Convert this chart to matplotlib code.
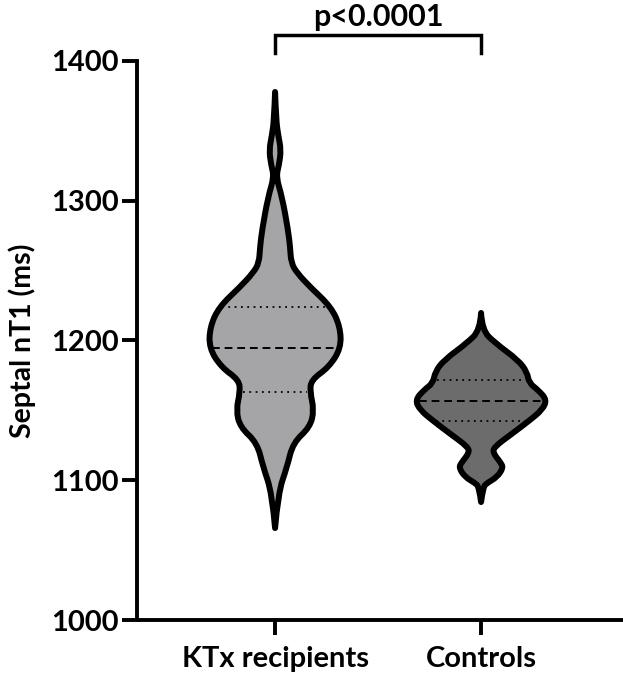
"""Violin plot of septal native T1 in KTx recipients vs controls."""

import matplotlib

matplotlib.use("Agg")
import matplotlib.pyplot as plt
import numpy as np
from matplotlib.patches import PathPatch
from matplotlib.path import Path

groups = ["KTx recipients", "Controls"]
fill_colors = ["#a5a5a7", "#6c6c6c"]

# violin outline: T1 level (ms) and half-width (fraction of group spacing)
ktx_levels = [1377.8, 1357.8, 1347.1, 1336.3, 1325.6, 1317.0, 1302.7, 1279.1, 1266.9,
              1255.5, 1248.3, 1238.3, 1224.0, 1209.7, 1194.6, 1181.0, 1171.7, 1163.1,
              1150.3, 1138.1, 1126.7, 1109.5, 1090.9, 1065.8]
ktx_halfwidth = [0.0, 0.005, 0.015, 0.029, 0.019, 0.005, 0.034, 0.063, 0.073,
                 0.078, 0.107, 0.170, 0.272, 0.316, 0.320, 0.262, 0.175, 0.170,
                 0.189, 0.170, 0.087, 0.058, 0.015, 0.0]

ctrl_levels = [1219.7, 1207.5, 1198.2, 1186.0, 1177.5, 1169.6, 1164.6, 1157.4, 1150.3,
               1143.1, 1133.8, 1123.8, 1119.5, 1112.3, 1108.8, 1102.3, 1098.0, 1095.2,
               1084.4]
ctrl_halfwidth = [0.0, 0.005, 0.068, 0.180, 0.223, 0.233, 0.277, 0.320, 0.296,
                  0.238, 0.155, 0.063, 0.058, 0.097, 0.107, 0.078, 0.029, 0.010,
                  0.0]

medians = [1194.4, 1156.4]
q1 = [1163.1, 1142.5]
q3 = [1224.0, 1172.0]

p_text = "p<0.0001"

plt.rcParams["font.family"] = ["Lato", "DejaVu Sans"]
plt.rcParams["font.weight"] = "bold"


def _smooth_side(xs, ys):
    """Quadratic Bezier through midpoints, keeping both end points."""
    verts = [(xs[0], ys[0])]
    codes = []
    n = len(xs)
    for k in range(1, n - 1):
        mid = ((xs[k] + xs[k + 1]) / 2, (ys[k] + ys[k + 1]) / 2)
        if k == n - 2:
            mid = (xs[-1], ys[-1])
        verts += [(xs[k], ys[k]), mid]
        codes += [Path.CURVE3, Path.CURVE3]
    return verts, codes


def violin_path(center, levels, half):
    lv = np.asarray(levels)
    hw = np.asarray(half)
    left_v, left_c = _smooth_side(center - hw, lv)
    right_v, right_c = _smooth_side((center + hw)[::-1], lv[::-1])
    verts = left_v + right_v[1:] + [left_v[0]]
    codes = [Path.MOVETO] + left_c + right_c + [Path.CLOSEPOLY]
    return Path(verts, codes)


fig = plt.figure(figsize=(6.23, 6.82), dpi=100)
ax = fig.add_axes([0.22, 0.0909, 0.78, 0.8197])

profiles = [(ktx_levels, ktx_halfwidth), (ctrl_levels, ctrl_halfwidth)]
for i, (levels, half) in enumerate(profiles):
    path = violin_path(i, levels, half)
    ax.add_patch(PathPatch(path, facecolor=fill_colors[i], edgecolor="none", zorder=2))
    ax.add_patch(PathPatch(path, facecolor="none", edgecolor="black", lw=4.3,
                           joinstyle="round", capstyle="round", zorder=4))

    lv = np.asarray(levels)
    hw = np.asarray(half)
    order = np.argsort(lv)
    for val, style, lw in [(medians[i], (0, (4, 2.5)), 1.4),
                           (q1[i], (0, (1, 2.5)), 1.3),
                           (q3[i], (0, (1, 2.5)), 1.3)]:
        w = np.interp(val, lv[order], hw[order]) - 0.015
        ax.plot([i - w, i + w], [val, val], color="black", lw=lw,
                linestyle=style, zorder=3)

ax.set_ylim(1000, 1400)
ax.set_xlim(-0.670, 1.689)
ax.set_yticks([1000, 1100, 1200, 1300, 1400])
ax.set_xticks([0, 1])
ax.set_xticklabels(groups)
ax.set_ylabel("Septal nT1 (ms)", fontsize=20.5, fontweight="bold", labelpad=11)

for side in ["top", "right"]:
    ax.spines[side].set_visible(False)
for side in ["left", "bottom"]:
    ax.spines[side].set_linewidth(2.8)
ax.tick_params(axis="both", width=2.8, length=11, labelsize=21, pad=2)
ax.tick_params(axis="x", pad=8)

# significance bracket
y_bar, y_leg = 1418.6, 1405.7
ax.plot([0, 0, 1, 1], [y_leg, y_bar, y_bar, y_leg], color="black", lw=2.5,
        clip_on=False, solid_joinstyle="miter")
ax.text(0.5, y_bar + 3, p_text, ha="center", va="bottom", fontsize=22,
        fontweight="bold", clip_on=False)

fig.savefig("out.png", dpi=100)
